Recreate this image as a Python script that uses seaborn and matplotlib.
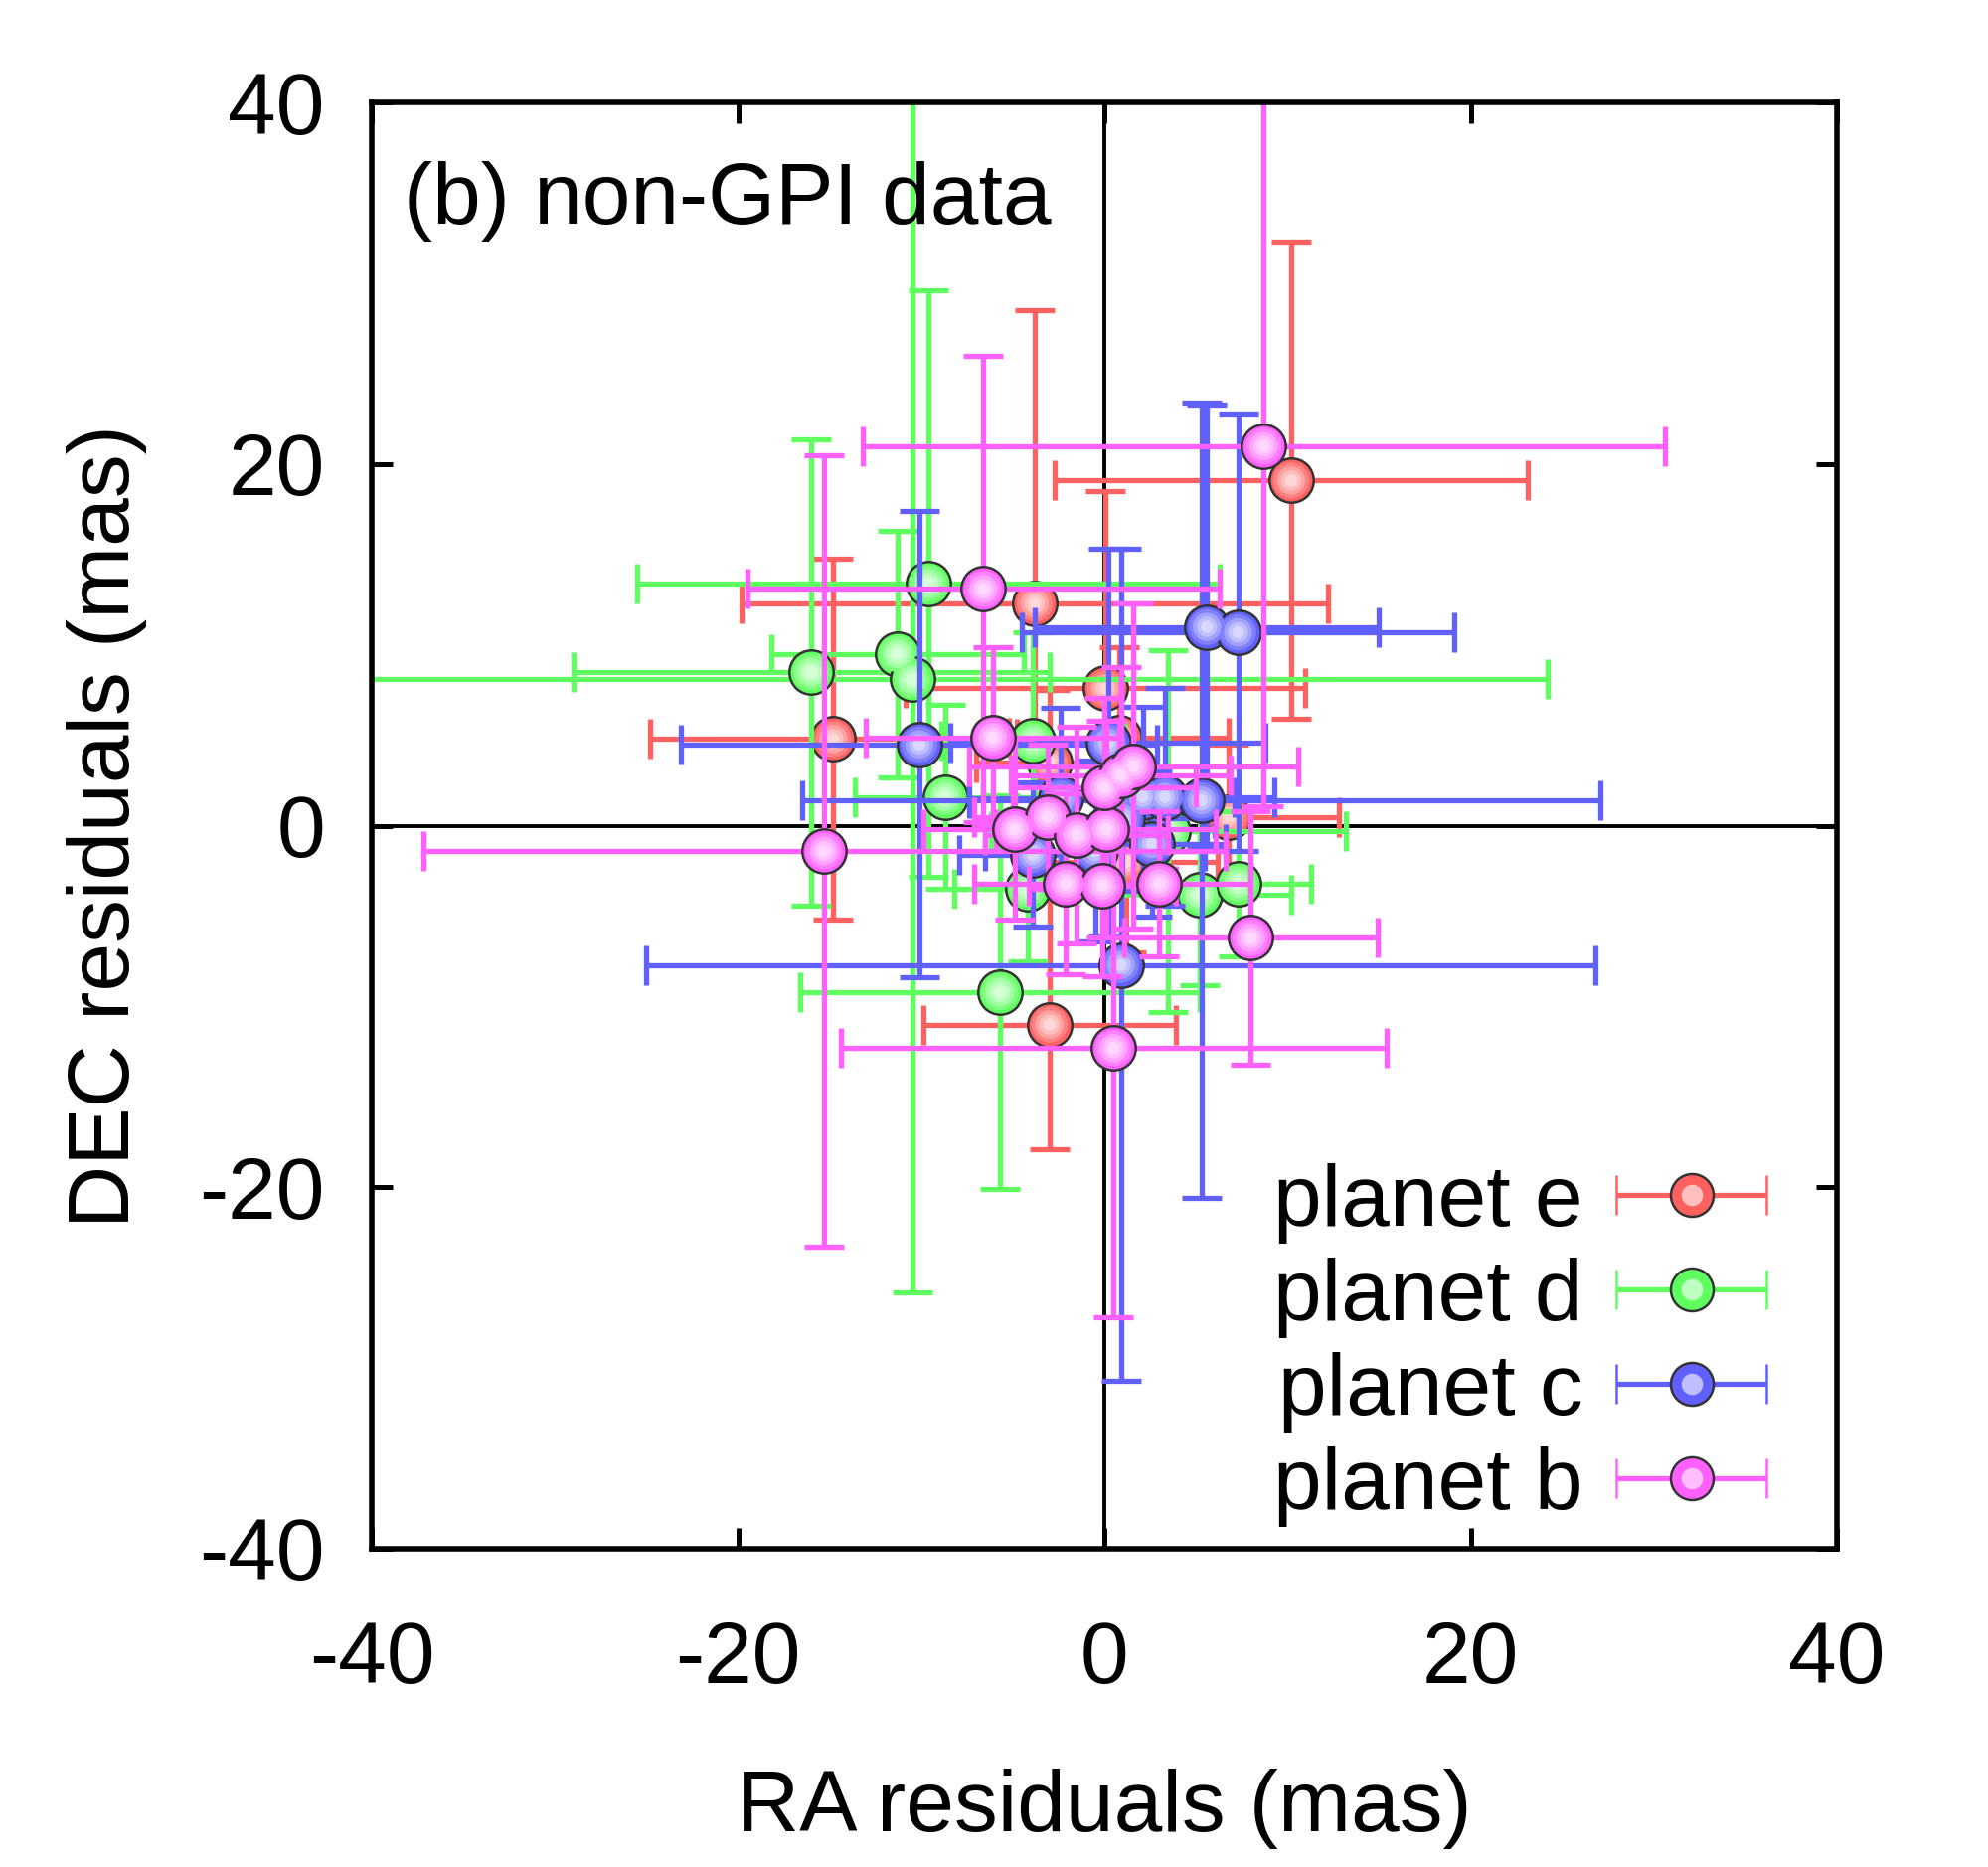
import numpy as np
import pandas as pd
import matplotlib
matplotlib.use("Agg")
import matplotlib.pyplot as plt
from matplotlib.colors import to_rgb
from matplotlib.container import ErrorbarContainer
from matplotlib.legend_handler import HandlerTuple, HandlerErrorbar
from matplotlib.lines import Line2D
import seaborn as sns

# ---- residuals (mas) ----
e_ra = [10.2, -3.8, 0.05, -14.8, -3.0, 0.8, 6.8, -3.0, 1.2]
e_dec = [19.1, 12.3, 7.6, 4.8, 3.5, 4.9, 0.5, -11.0, -2.0]
e_ra_err = [12.9, 16.0, 10.9, 10.0, 4.0, 6.0, 6.0, 6.9, 5.0]
e_dec_err = [13.2, 16.2, 10.9, 10.0, 4.0, 5.0, 4.0, 6.9, 5.0]

d_ra = [-9.6, -16.0, -11.3, -10.5, -8.7, -3.9, 3.5, -4.2, 5.2, 7.3, -5.7]
d_dec = [13.4, 8.5, 9.5, 8.1, 1.6, 4.7, -0.3, -3.5, -3.8, -3.2, -9.2]
d_ra_err = [15.9, 13.0, 6.9, 34.7, 4.9, 5.0, 9.7, 4.0, 5.0, 4.0, 10.9]
d_dec_err = [16.2, 12.9, 6.8, 33.9, 5.1, 6.0, 10.0, 4.0, 5.0, 4.0, 10.9]

c_ra = [5.6, 7.3, -10.1, 0.2, -2.4, 2.1, 3.3, 5.3, 2.6, 1.0, -3.9, -0.5, 0.9]
c_dec = [11.0, 10.7, 4.5, 4.6, 1.5, 1.6, 1.6, 1.4, -1.0, 0.4, -1.6, -1.4, -7.7]
c_ra_err = [9.4, 11.8, 13.0, 8.6, 5.0, 5.0, 6.0, 21.8, 4.0, 5.0, 4.0, 6.0, 25.9]
c_dec_err = [12.3, 12.1, 12.9, 10.7, 5.0, 5.0, 6.0, 22.0, 4.0, 4.0, 4.0, 5.0, 23.0]

b_ra = [8.7, -6.6, -6.1, -15.3, -4.9, -3.1, -1.5, 0.1, 0.0, 0.9, 1.6, -2.1, -0.1, 3.0, 8.0, 0.5]
b_dec = [21.0, 13.1, 4.9, -1.4, -0.2, 0.5, -0.5, -0.2, 2.1, 2.8, 3.3, -3.2, -3.3, -3.2, -6.2, -12.3]
b_ra_err = [21.9, 12.9, 6.9, 21.9, 5.0, 4.0, 5.0, 6.0, 5.0, 6.0, 9.0, 5.0, 4.0, 5.0, 6.9, 14.9]
b_dec_err = [19.9, 12.9, 5.0, 21.9, 5.0, 4.0, 6.0, 6.0, 5.0, 6.0, 9.0, 5.0, 5.0, 4.0, 7.0, 14.9]

labels = ["planet e", "planet d", "planet c", "planet b"]
colors = ["#ff6060", "#60ff60", "#6060ff", "#ff60ff"]
series = [
    (e_ra, e_dec, e_ra_err, e_dec_err),
    (d_ra, d_dec, d_ra_err, d_dec_err),
    (c_ra, c_dec, c_ra_err, c_dec_err),
    (b_ra, b_dec, b_ra_err, b_dec_err),
]
ticks = [-40, -20, 0, 20, 40]


def lighten(c, t):
    r = np.array(to_rgb(c))
    return tuple(r + (1 - r) * t)


sns.set_style("ticks")
plt.rcParams["font.family"] = ["Liberation Sans", "DejaVu Sans"]
plt.rcParams["font.size"] = 31.5
plt.rcParams["axes.unicode_minus"] = False
plt.rcParams["text.color"] = "black"
plt.rcParams["axes.labelcolor"] = "black"
plt.rcParams["xtick.color"] = "black"
plt.rcParams["ytick.color"] = "black"

fig = plt.figure(figsize=(10, 9.39), dpi=200)
ax = fig.add_axes([0.187, 0.1704, 0.737, 0.7746])

dia = 16.0  # marker diameter in points
lw_bar = 1.9
cap = 7.3
# shading rings for the sphere look: (size fraction, whiteness)
layers = [(0.82, 0.2), (0.64, 0.42), (0.46, 0.6), (0.28, 0.75)]

for i, (c, (ra, dec, rerr, derr)) in enumerate(zip(colors, series)):
    z = 3 + i
    ax.errorbar(ra, dec, xerr=rerr, yerr=derr, fmt="none", ecolor=c,
                elinewidth=lw_bar, capsize=cap, capthick=lw_bar, zorder=z)
    df = pd.DataFrame({"ra": ra, "dec": dec})
    sns.scatterplot(data=df, x="ra", y="dec", ax=ax, s=dia ** 2, color=c,
                    edgecolor="#333333", linewidth=0.9, zorder=z + 0.1, legend=False)
    for k, (f, t) in enumerate(layers):
        sns.scatterplot(data=df, x="ra", y="dec", ax=ax, s=(dia * f) ** 2,
                        color=lighten(c, t), edgecolor="none", linewidth=0,
                        zorder=z + 0.2 + 0.1 * k, legend=False)

# zero lines
ax.axhline(0, color="black", lw=1.4, zorder=1)
ax.axvline(0, color="black", lw=1.4, zorder=1)

ax.set_xlim(-40, 40)
ax.set_ylim(-40, 40)
ax.set_xticks(ticks)
ax.set_yticks(ticks)
ax.tick_params(direction="in", length=7.5, width=1.8, top=True, right=True,
               colors="black", labelsize=31.5)
ax.tick_params(axis="x", pad=26)
ax.tick_params(axis="y", pad=17)
for sp in ax.spines.values():
    sp.set_linewidth(2.0)
    sp.set_color("black")
    sp.set_zorder(10)

ax.set_xlabel("RA residuals (mas)", fontsize=31.5)
ax.set_ylabel("DEC residuals (mas)", fontsize=31.5)
ax.xaxis.set_label_coords(0.5, -0.152)
ax.yaxis.set_label_coords(-0.153, 0.5)

ax.text(0.022, 0.916, "(b) non-GPI data", transform=ax.transAxes,
        ha="left", va="baseline", fontsize=31.5, zorder=20)

# legend: horizontal errorbar with shaded circle
handles = []
for c in colors:
    eb = ax.errorbar([np.nan], [np.nan], xerr=[1.0], fmt="o", color=c, ms=dia - 0.5,
                     mfc=c, mec="#333333", mew=0.9, ecolor=c, elinewidth=lw_bar,
                     capsize=cap, capthick=lw_bar)
    hl = Line2D([], [], ls="none", marker="o", ms=(dia - 0.5) * 0.5,
                mfc=lighten(c, 0.6), mec="none")
    handles.append((eb, hl))

leg = ax.legend(handles, labels,
                handler_map={tuple: HandlerTuple(ndivide=1),
                             ErrorbarContainer: HandlerErrorbar(xerr_size=0.86)},
                loc="lower right", bbox_to_anchor=(0.972, 0.0),
                frameon=False, markerfirst=False,
                handlelength=1.9, handletextpad=0.3, labelspacing=0.16,
                borderaxespad=0.0, borderpad=0.25, fontsize=31.5)
leg.set_zorder(30)

fig.savefig("out.png", dpi=200)
